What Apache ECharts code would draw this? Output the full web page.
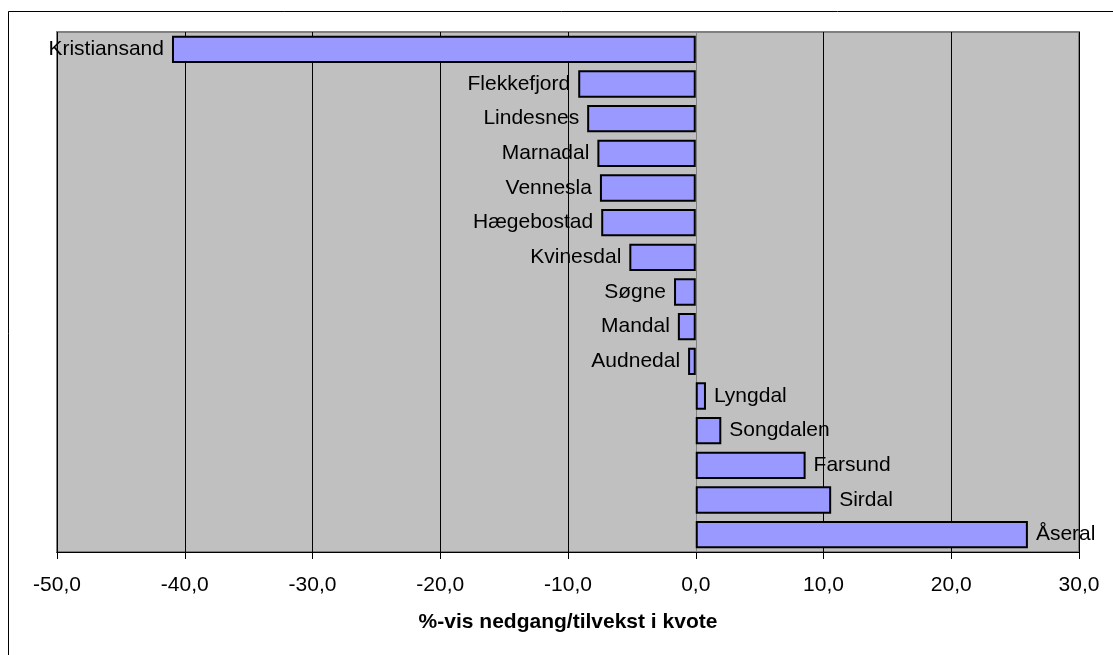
<!DOCTYPE html>
<html>
<head>
<meta charset="utf-8">
<script src="https://cdn.jsdelivr.net/npm/echarts@6/dist/echarts.min.js"></script>
<style>
html,body{margin:0;padding:0;background:#fff;}
#c{width:1113px;height:655px;}
</style>
</head>
<body>
<div id="c"></div>
<script>
var categories = ['Kristiansand','Flekkefjord','Lindesnes','Marnadal','Vennesla','Hægebostad','Kvinesdal','Søgne','Mandal','Audnedal','Lyngdal','Songdalen','Farsund','Sirdal','Åseral'];
var values = [-41.0,-9.2,-8.5,-7.7,-7.5,-7.4,-5.2,-1.7,-1.4,-0.6,0.8,2.0,8.6,10.6,26.0];
var xTicks = {min:-50, max:30, interval:10};
var axisTitle = '%-vis nedgang/tilvekst i kvote';

var FONT = '"Liberation Sans", Arial, sans-serif';
var chart = echarts.init(document.getElementById('c'), null, {renderer:'canvas'});
var data = values.map(function(v){
  return {value:v, label:{position: v < 0 ? 'left' : 'right'}};
});
chart.setOption({
  animation:false,
  backgroundColor:'#fff',
  graphic:[{
    type:'rect', z:-10, silent:true,
    shape:{x:8.5, y:11.5, width:1300, height:800},
    style:{fill:null, stroke:'#000', lineWidth:1}
  }],
  grid:{left:57, right:34, top:32, bottom:103, show:true,
        backgroundColor:'#C0C0C0', borderColor:'#808080', borderWidth:2},
  xAxis:{
    type:'value', min:xTicks.min, max:xTicks.max, interval:xTicks.interval,
    axisLine:{show:true, onZero:false, lineStyle:{color:'#000', width:1}},
    axisTick:{show:true, length:7, inside:false, lineStyle:{color:'#000'}},
    splitLine:{show:true, lineStyle:{color:'#000', width:1}},
    axisLabel:{color:'#000', fontSize:21, fontFamily:FONT, margin:23,
      formatter:function(v){return v.toFixed(1).replace('.', ',');}},
    name:axisTitle, nameLocation:'middle', nameGap:60,
    nameTextStyle:{color:'#000', fontSize:21, fontWeight:'bold', fontFamily:FONT}
  },
  yAxis:{
    type:'category', data:categories, inverse:true,
    axisLine:{show:true, onZero:true, lineStyle:{color:'#808080', width:1}},
    axisTick:{show:false}, axisLabel:{show:false}, splitLine:{show:false}
  },
  series:[{
    type:'bar', data:data, barCategoryGap:'21%',
    itemStyle:{color:'#9999FF', borderColor:'#000', borderWidth:2},
    label:{show:true, distance:8, color:'#000', fontSize:21, fontFamily:FONT,
      formatter:function(p){return p.name;}}
  }]
});
</script>
</body>
</html>
